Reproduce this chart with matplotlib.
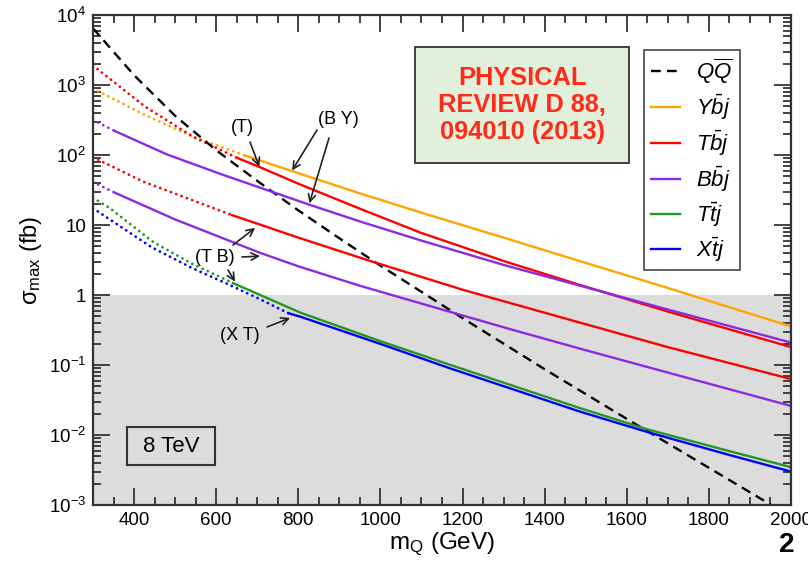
import numpy as np
import matplotlib.pyplot as plt
from matplotlib.ticker import MultipleLocator, FixedLocator, FixedFormatter, LogLocator, NullFormatter
from matplotlib.patches import Rectangle

plt.rcParams['font.family'] = ['Liberation Sans', 'DejaVu Sans']
plt.rcParams['mathtext.fontset'] = 'custom'
plt.rcParams['mathtext.rm'] = 'Liberation Sans'
plt.rcParams['mathtext.it'] = 'Liberation Sans:italic'
plt.rcParams['lines.scale_dashes'] = False

# sigma_max (fb) vs m_Q (GeV)
m_qq = [300, 400, 500, 600, 700, 800, 900, 1000, 1200, 1400, 1600, 1800, 2000]
s_qq = [6457, 1380, 363, 117, 42.7, 16.2, 6.46, 2.63, 0.468, 0.087, 0.017, 0.0034, 0.00068]

m_ybj_dot = [300, 427, 544, 671]
s_ybj_dot = [890, 372, 182, 98]
m_ybj = [671, 800, 951, 1098, 1300, 1488, 1700, 2000]
s_ybj = [98, 55, 28.2, 15.1, 6.6, 3.02, 1.26, 0.355]

m_tbj1_dot = [300, 427, 544, 651]
s_tbj1_dot = [1900, 490, 182, 91]
m_tbj1 = [651, 705, 800, 951, 1098, 1300, 1488, 1700, 2000]
s_tbj1 = [91, 67.6, 38.9, 17, 7.76, 3.06, 1.38, 0.58, 0.18]

m_bbj1_dot = [300, 354]
s_bbj1_dot = [316, 219]
m_bbj1 = [354, 480, 610, 827, 951, 1098, 1300, 1488, 1700, 2000]
s_bbj1 = [219, 102, 53.7, 19.5, 11.2, 6.03, 2.69, 1.35, 0.62, 0.209]

m_tbj2_dot = [300, 422, 544, 639]
s_tbj2_dot = [93, 41.7, 22.4, 13.8]
m_tbj2 = [639, 695, 800, 968, 1200, 1488, 1700, 2000]
s_tbj2 = [13.8, 10.7, 6.6, 3.16, 1.19, 0.40, 0.18, 0.063]

m_bbj2_dot = [300, 354]
s_bbj2_dot = [41, 28.8]
m_bbj2 = [354, 500, 707, 800, 951, 1150, 1317, 1488, 1700, 2000]
s_bbj2 = [28.8, 12.0, 4.0, 2.57, 1.35, 0.62, 0.324, 0.17, 0.078, 0.026]

m_ttj_dot = [300, 341, 446, 540, 641]
s_ttj_dot = [24.5, 17.4, 5.75, 2.82, 1.48]
m_ttj = [641, 805, 1000, 1171, 1488, 1651, 1849, 2000]
s_ttj = [1.48, 0.56, 0.219, 0.1, 0.024, 0.012, 0.0059, 0.00347]

m_xtj_dot = [300, 341, 443, 540, 634, 700, 776]
s_xtj_dot = [17.4, 12.0, 4.8, 2.45, 1.38, 0.91, 0.55]
m_xtj = [776, 805, 1000, 1171, 1488, 1651, 1849, 2000]
s_xtj = [0.55, 0.49, 0.2, 0.089, 0.0214, 0.011, 0.0052, 0.0030]

c_y = '#ffa500'
c_t = '#ff0000'
c_b = '#8a2be2'
c_tt = '#1f9a1f'
c_x = '#0000ff'

dot = (0, (0.1, 4.0))
dash = (0, (7, 4.5))
lw = 1.7

fig = plt.figure(figsize=(8.08, 5.62), dpi=100)
ax = fig.add_axes([93/808, 1-505/562, (791-93)/808, (505-15)/562])
ax.axhspan(1e-3, 1, color='#dcdcdc', lw=0, zorder=0)

for mm, ss, cc in [(m_ybj_dot, s_ybj_dot, c_y), (m_tbj1_dot, s_tbj1_dot, c_t),
                   (m_bbj1_dot, s_bbj1_dot, c_b), (m_tbj2_dot, s_tbj2_dot, c_t),
                   (m_bbj2_dot, s_bbj2_dot, c_b), (m_ttj_dot, s_ttj_dot, c_tt),
                   (m_xtj_dot, s_xtj_dot, c_x)]:
    ax.plot(mm, ss, color=cc, ls=dot, lw=2.0, dash_capstyle='round')

ax.plot(m_qq, s_qq, color='black', ls=dash, lw=lw, label=r'$Q\overline{Q}$')
ax.plot(m_ybj, s_ybj, color=c_y, lw=lw, label=r'$Y\bar{b}j$')
ax.plot(m_tbj1, s_tbj1, color=c_t, lw=lw, label=r'$T\bar{b}j$')
ax.plot(m_bbj1, s_bbj1, color=c_b, lw=lw, label=r'$B\bar{b}j$')
ax.plot(m_ttj, s_ttj, color=c_tt, lw=lw, label=r'$T\bar{t}j$')
ax.plot(m_xtj, s_xtj, color=c_x, lw=lw, label=r'$X\bar{t}j$')
ax.plot(m_tbj2, s_tbj2, color=c_t, lw=lw)
ax.plot(m_bbj2, s_bbj2, color=c_b, lw=lw)

ax.set_yscale('log')
ax.set_xlim(300, 2000)
ax.set_ylim(1e-3, 1e4)

ax.xaxis.set_major_locator(MultipleLocator(200))
ax.xaxis.set_minor_locator(MultipleLocator(50))
ax.yaxis.set_major_locator(FixedLocator([1e-3, 1e-2, 1e-1, 1, 10, 1e2, 1e3, 1e4]))
ax.yaxis.set_major_formatter(FixedFormatter([r'10$^{\mathregular{-3}}$', r'10$^{\mathregular{-2}}$',
                                             r'10$^{\mathregular{-1}}$', '1', '10', r'10$^{\mathregular{2}}$',
                                             r'10$^{\mathregular{3}}$', r'10$^{\mathregular{4}}$']))
ax.yaxis.set_minor_locator(LogLocator(base=10, subs=np.arange(2, 10), numticks=20))
ax.yaxis.set_minor_formatter(NullFormatter())
ax.tick_params(which='both', direction='in', top=True, right=True, color='#333333', width=1.3)
ax.tick_params(which='major', length=12, labelsize=13.5, pad=5)
ax.tick_params(which='minor', length=6)
for sp in ax.spines.values():
    sp.set_linewidth(1.6)
    sp.set_color('#333333')

ax.set_xlabel(r'm$_{\mathregular{Q}}$ (GeV)', fontsize=17.5, labelpad=1)
ax.set_ylabel(r'σ$_{\mathregular{max}}$ (fb)', fontsize=17, labelpad=3)

leg = ax.legend(loc='upper left', bbox_to_anchor=(644/808, 1-50/562), bbox_transform=fig.transFigure,
                borderaxespad=0, fontsize=16, handlelength=1.3, handletextpad=0.75, labelspacing=0.3,
                fancybox=False, edgecolor='#555555', framealpha=1, borderpad=0.3)
leg.get_frame().set_linewidth(1.3)

# annotations
arr = dict(arrowstyle='->', color='#222222', lw=1.2, shrinkA=0, shrinkB=0, mutation_scale=13)
H = 562
def fp(x, y):
    return (x, H - y)

ax.text(*fp(242, 128), '(T)', transform=None, fontsize=13, ha='center', va='center')
ax.annotate('', xy=(705, 68), xytext=fp(250, 142), textcoords='figure pixels', arrowprops=arr)

ax.text(*fp(338, 119), '(B Y)', transform=None, fontsize=13, ha='center', va='center')
ax.annotate('', xy=(785, 60), xytext=fp(317, 130), textcoords='figure pixels', arrowprops=arr)
ax.annotate('', xy=(827, 20.4), xytext=fp(329, 138), textcoords='figure pixels', arrowprops=arr)

ax.text(*fp(215, 257), '(T B)', transform=None, fontsize=13, ha='center', va='center')
ax.annotate('', xy=(695, 9.1), xytext=fp(233, 245), textcoords='figure pixels', arrowprops=arr)
ax.annotate('', xy=(707, 3.6), xytext=fp(242, 257), textcoords='figure pixels', arrowprops=arr)
ax.annotate('', xy=(646, 1.55), xytext=fp(228, 270), textcoords='figure pixels', arrowprops=arr)

ax.text(*fp(240, 335), '(X T)', transform=None, fontsize=13, ha='center', va='center')
ax.annotate('', xy=(780, 0.47), xytext=fp(267, 327), textcoords='figure pixels', arrowprops=arr)

# 8 TeV box
fig.add_artist(Rectangle((127/808, 1-465/562), 88/808, 38/562, transform=fig.transFigure,
                         fill=False, edgecolor='#333333', lw=1.5))
fig.text(171/808, 1-446/562, '8 TeV', fontsize=16, ha='center', va='center')

# journal reference box
fig.add_artist(Rectangle((415/808, 1-163/562), 214/808, 116/562, transform=fig.transFigure,
                         facecolor='#e2efda', edgecolor='#333333', lw=1.3))
fig.text(522/808, 1-105/562, 'PHYSICAL\nREVIEW D 88,\n094010 (2013)', fontsize=18.3,
         fontweight='bold', color='#ff2a1a', ha='center', va='center', linespacing=1.15)

fig.text(787/808, 1-545/562, '2', fontsize=20, fontweight='bold', ha='center', va='center')

fig.savefig('out.png', dpi=100)
